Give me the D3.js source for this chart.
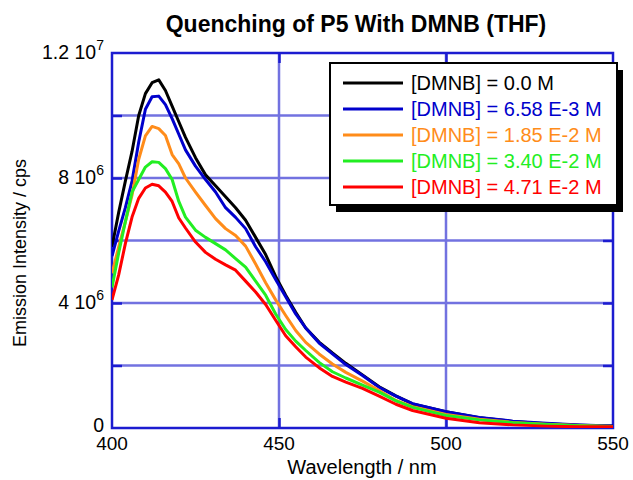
<!DOCTYPE html>
<html><head><meta charset="utf-8">
<script src="https://cdn.jsdelivr.net/npm/d3@7"></script>
<style>body{margin:0;background:#fff}svg{display:block}text{font-family:"Liberation Sans",Arial,sans-serif}</style>
</head><body>
<svg id="c" width="633" height="480"></svg>
<script>
const wavelengths = [400,402,404,406,408,410,412,414,416,418,420,422,425,428,431,434,437,440,443,446,449,452,455,458,462,466,470,475,480,485,490,500,510,520,530,540,550];
const s0   = [5.8,6.9,7.9,8.85,10.0,10.7,11.05,11.14,10.8,10.3,9.8,9.3,8.65,8.1,7.75,7.4,7.05,6.65,6.1,5.55,4.85,4.25,3.7,3.2,2.75,2.4,2.07,1.7,1.32,1.03,0.77,0.52,0.33,0.21,0.14,0.09,0.06];
const s658 = [5.5,6.3,7.05,7.9,9.15,10.2,10.6,10.62,10.35,9.9,9.4,8.9,8.38,7.95,7.55,7.05,6.74,6.38,5.8,5.32,4.75,4.2,3.65,3.2,2.72,2.37,2.03,1.68,1.3,1.02,0.78,0.52,0.34,0.22,0.15,0.1,0.06];
const s185 = [4.95,5.8,6.6,7.45,8.6,9.35,9.65,9.58,9.36,8.75,8.45,8.0,7.55,7.12,6.7,6.38,6.16,5.82,5.25,4.65,4.1,3.6,3.12,2.74,2.37,2.05,1.78,1.5,1.2,0.88,0.68,0.43,0.28,0.18,0.12,0.08,0.05];
const s340 = [4.5,5.6,6.6,7.55,7.95,8.35,8.52,8.5,8.3,7.95,7.25,6.75,6.33,6.1,5.9,5.7,5.42,5.15,4.7,4.25,3.65,3.15,2.78,2.48,2.1,1.8,1.6,1.37,1.15,0.87,0.66,0.4,0.26,0.17,0.11,0.07,0.05];
const s471 = [4.1,4.9,5.9,6.75,7.35,7.68,7.8,7.75,7.55,7.25,6.72,6.4,5.95,5.62,5.4,5.22,5.05,4.7,4.35,3.95,3.45,2.95,2.6,2.27,1.93,1.65,1.47,1.27,1.02,0.76,0.56,0.31,0.17,0.1,0.06,0.04,0.04];
const seriesValues = [s0, s658, s185, s340, s471];
const seriesLabels = ["[DMNB] = 0.0 M","[DMNB] = 6.58 E-3 M","[DMNB] = 1.85 E-2 M","[DMNB] = 3.40 E-2 M","[DMNB] = 4.71 E-2 M"];
const seriesColors = ["#000000","#0000cc","#ff8c1a","#22ee22","#ff0000"];
const xTicks = [400,450,500,550];
const yTicks = [0,4e6,8e6,1.2e7];
const yTickLabels = [["0",""],["4 10","6"],["8 10","6"],["1.2 10","7"]];
const yGrid = [2e6,4e6,6e6,8e6,1e7];
const xGrid = [450,500];

const svg = d3.select("#c");
const m = {l:112, t:53, r:20, b:52};
const W = 633, H = 480;
const x = d3.scaleLinear().domain([400,550]).range([m.l, W-m.r]);
const y = d3.scaleLinear().domain([0,1.2e7]).range([H-m.b, m.t]);
const gridCol = "#7272e0", axCol = "#1c1cd0";

// grid
svg.append("g").selectAll("line").data(yGrid).join("line")
  .attr("x1", x(400)).attr("x2", x(550)).attr("y1", d=>y(d)).attr("y2", d=>y(d))
  .attr("stroke", gridCol).attr("stroke-width", 2.5);
svg.append("g").selectAll("line").data(xGrid).join("line")
  .attr("y1", y(0)).attr("y2", y(1.2e7)).attr("x1", d=>x(d)).attr("x2", d=>x(d))
  .attr("stroke", gridCol).attr("stroke-width", 2.5);

// axes with inward ticks
const tk = 10;
const styleAx = g=>{g.select(".domain").remove(); g.selectAll("line").attr("stroke",axCol).attr("stroke-width",2.5);};
svg.append("g").attr("transform",`translate(${x(400)},0)`)
  .call(d3.axisRight(y).tickValues(yGrid).tickSize(tk).tickFormat("")).call(styleAx);
svg.append("g").attr("transform",`translate(${x(550)},0)`)
  .call(d3.axisLeft(y).tickValues(yGrid).tickSize(tk).tickFormat("")).call(styleAx);
svg.append("g").attr("transform",`translate(0,${y(0)})`)
  .call(d3.axisTop(x).tickValues(xGrid).tickSize(tk).tickFormat("")).call(styleAx);
svg.append("g").attr("transform",`translate(0,${y(1.2e7)})`)
  .call(d3.axisBottom(x).tickValues(xGrid).tickSize(tk).tickFormat("")).call(styleAx);

// frame
svg.append("rect").attr("x", x(400)).attr("y", y(1.2e7)).attr("width", x(550)-x(400)).attr("height", y(0)-y(1.2e7))
  .attr("fill","none").attr("stroke",axCol).attr("stroke-width",2.5);

// clip
svg.append("clipPath").attr("id","clip").append("rect")
  .attr("x", x(400)).attr("y", y(1.2e7)).attr("width", x(550)-x(400)).attr("height", y(0)-y(1.2e7));

const line = d3.line().x((d,i)=>x(wavelengths[i])).y(d=>y(d*1e6));
svg.append("g").attr("clip-path","url(#clip)").selectAll("path").data(seriesValues).join("path")
  .attr("d", d=>line(d)).attr("fill","none").attr("stroke",(d,i)=>seriesColors[i])
  .attr("stroke-width",3).attr("stroke-linejoin","round");

// x tick labels
svg.append("g").selectAll("text").data(xTicks).join("text")
  .attr("x", d=>x(d)).attr("y", y(0)+22).attr("text-anchor","middle").attr("font-size",19).text(d=>d);
// y tick labels
const yl = svg.append("g").selectAll("text").data(yTicks).join("text")
  .attr("x", x(400)-8).attr("y", d=>y(d)+(d===0?4:6)).attr("text-anchor","end").attr("font-size",19.5);
yl.each(function(d,i){
  const t = d3.select(this);
  t.append("tspan").text(yTickLabels[i][0]);
  if (yTickLabels[i][1]) t.append("tspan").attr("dy",-9).attr("font-size",14).text(yTickLabels[i][1]);
});

// axis titles
svg.append("text").attr("x", 362).attr("y", 474).attr("text-anchor","middle").attr("font-size",20).text("Wavelength / nm");
svg.append("text").attr("transform","translate(26,253) rotate(-90)").attr("text-anchor","middle").attr("font-size",18).text("Emission Intensity / cps");
svg.append("text").attr("x", 356).attr("y", 32).attr("text-anchor","middle").attr("font-size",23).attr("font-weight","bold").text("Quenching of P5 With DMNB (THF)");

// legend
const lg = {x:330, y:63, w:287, h:142};
svg.append("rect").attr("x",lg.x+6).attr("y",lg.y+7).attr("width",lg.w).attr("height",lg.h).attr("fill","#000");
svg.append("rect").attr("x",lg.x).attr("y",lg.y).attr("width",lg.w).attr("height",lg.h).attr("fill","#fff").attr("stroke","#000").attr("stroke-width",2);
const rows = svg.append("g").selectAll("g").data(seriesLabels).join("g")
  .attr("transform",(d,i)=>`translate(${lg.x},${lg.y+20+i*26})`);
rows.append("line").attr("x1",13).attr("x2",73).attr("y1",0).attr("y2",0)
  .attr("stroke",(d,i)=>seriesColors[i]).attr("stroke-width",3);
rows.append("text").attr("x",81).attr("y",7).attr("font-size",20).attr("fill",(d,i)=>seriesColors[i]).text(d=>d);
</script>
</body></html>
